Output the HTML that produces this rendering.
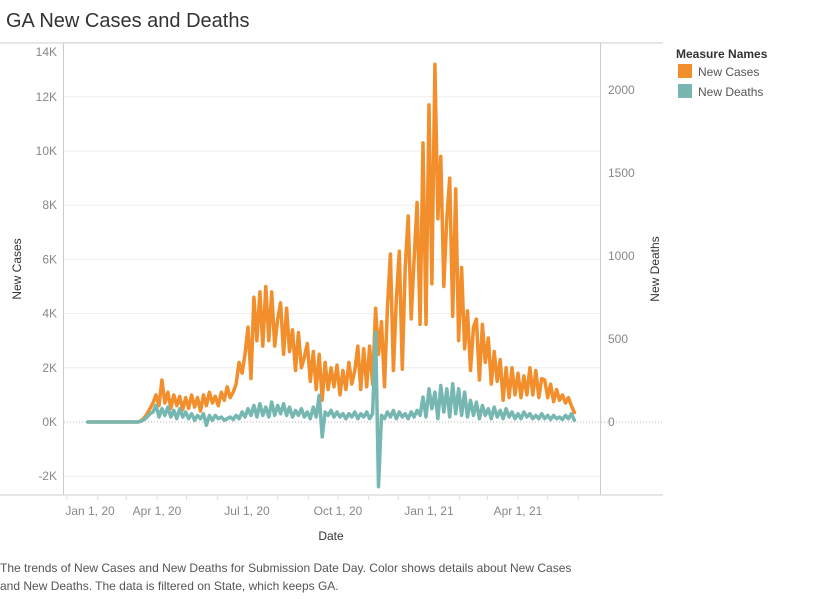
<!DOCTYPE html>
<html><head><meta charset="utf-8"><style>
body{margin:0;background:#fff;font-family:"Liberation Sans",sans-serif;}
svg text{font-family:"Liberation Sans",sans-serif;}
</style></head><body>
<svg width="815" height="594" xmlns="http://www.w3.org/2000/svg">
<text x="6" y="27" font-size="20" fill="#333">GA New Cases and Deaths</text>
<g id="grid"></g>
<line x1="0" y1="43" x2="663" y2="43" stroke="#ccc"/>
<line x1="0" y1="495" x2="663" y2="495" stroke="#ccc"/>
<line x1="63.5" y1="43" x2="63.5" y2="495" stroke="#ccc"/>
<line x1="600.5" y1="43" x2="600.5" y2="495" stroke="#ccc"/>
<g id="series"></g>
<g id="axes"></g>
<text transform="translate(21,269) rotate(-90)" text-anchor="middle" font-size="12" fill="#333">New Cases</text>
<text transform="translate(659,269) rotate(-90)" text-anchor="middle" font-size="12" fill="#333">New Deaths</text>
<text x="331" y="540" text-anchor="middle" font-size="12" fill="#333">Date</text>
<g>
<text x="676" y="58" font-size="12" fill="#333" font-weight="bold">Measure Names</text>
<rect x="678" y="64" width="14" height="14" fill="#F28E2B"/>
<text x="698" y="76" font-size="12" fill="#555">New Cases</text>
<rect x="678" y="84" width="14" height="14" fill="#76B7B2"/>
<text x="698" y="96" font-size="12" fill="#555">New Deaths</text>
</g>
<text x="0" y="572" font-size="12" fill="#555">The trends of New Cases and New Deaths for Submission Date Day.  Color shows details about New Cases</text>
<text x="0" y="590" font-size="12" fill="#555">and New Deaths. The data is filtered on State, which keeps GA.</text>
</svg>
<script>
const startDay = 21; // days since Jan 1 2020
const stepDays = 3;
const newCases = [0,0,0,0,0,0,0,0,0,0,0,0,0,0,0,0,0,0,
50,150,300,500,700,1000,600,1550,700,1100,500,1000,600,950,450,900,500,1000,550,900,400,1000,600,1100,700,950,600,1100,800,1300,900,1100,1400,2200,1800,2500,3500,1600,4600,3000,4800,2800,5000,3000,4800,2800,3800,4400,2500,4200,2600,3400,1900,3300,2000,2400,2900,1500,2600,1200,2500,800,2200,1200,2000,1300,2100,1000,1900,1200,2200,1400,1900,2800,1200,2700,1300,2800,1400,4200,2500,3700,1300,4200,6200,1900,4500,6300,1950,5700,7600,3800,6000,8100,3600,10300,3600,11700,5100,13200,7500,9800,5000,7500,9000,3900,8600,3000,5700,2700,4100,1900,3500,3800,1550,3600,2200,3100,1400,2600,1500,2300,800,2000,900,2000,1000,1800,900,1700,1000,2000,1000,1900,900,1600,1550,900,1400,750,1200,800,1000,700,900,600,350];
const newDeaths = [0,0,0,0,0,0,0,0,0,0,0,0,0,0,0,0,0,0,
5,15,30,50,60,100,30,80,40,90,30,70,20,80,30,60,20,50,10,40,20,50,-20,40,10,40,20,30,10,20,30,15,40,20,60,30,80,40,100,30,110,40,90,30,120,40,100,50,110,40,90,30,70,40,80,30,60,20,90,30,160,-90,60,40,70,30,60,30,50,20,50,30,60,20,50,30,60,20,50,540,-390,40,20,60,30,70,20,60,30,50,20,60,30,70,40,150,30,200,80,180,20,220,60,200,30,230,50,200,40,180,30,130,40,120,20,100,40,80,20,90,30,70,20,80,30,60,20,50,20,60,30,50,20,40,20,50,20,40,15,40,20,30,15,40,20,50,10];
const leftTicks = [14000,12000,10000,8000,6000,4000,2000,0,-2000];
const leftTickLabels = ["14K","12K","10K","8K","6K","4K","2K","0K","-2K"];
const rightTicks = [2000,1500,1000,500,0];
const xTickDays = [0,91,182,274,366,456];
const xTickLabels = ["Jan 1, 20","Apr 1, 20","Jul 1, 20","Oct 1, 20","Jan 1, 21","Apr 1, 21"];

const NS="http://www.w3.org/2000/svg";
const xs = d => 67 + d*0.989;
const yL = v => 422 - v*0.0271;
const yR = v => 422 - v*0.166;
function mk(tag, attrs, parent){const e=document.createElementNS(NS,tag);for(const k in attrs)e.setAttribute(k,attrs[k]);parent.appendChild(e);return e;}
const grid=document.getElementById('grid'), axes=document.getElementById('axes'), series=document.getElementById('series');
leftTicks.forEach((v,i)=>{
  const y=yL(v);
  if(v!==0){const g=mk('line',{x1:64,x2:600,y1:y,y2:y,stroke:'#eee'},grid);
  
  }
  else{const z=mk('line',{x1:64,x2:663,y1:y,y2:y,stroke:'#bbb','stroke-dasharray':'1,2'},grid);
  
  }
  const ly = (y < 50) ? 56 : y+4;
  const t=mk('text',{x:57,y:ly,'text-anchor':'end','font-size':12,fill:'#888'},axes);
  t.textContent=leftTickLabels[i];
  
  
});
rightTicks.forEach(v=>{
  const y=yR(v);
  const t=mk('text',{x:608,y:y+4,'font-size':12,fill:'#888'},axes);
  t.textContent=String(v);
  
  
});
for(let m=0;m<18;m++){
  const d=[0,31,60,91,121,152,182,213,244,274,305,335,366,397,425,456,486,517][m];
  const x=xs(d);
  const tk=mk('line',{x1:x,x2:x,y1:495,y2:500,stroke:'#ddd'},axes);
  
  
}
xTickDays.forEach((d,i)=>{
  const x = i===0 ? 90 : xs(d);
  const t=mk('text',{x:x,y:515,'text-anchor':'middle','font-size':12,fill:'#888'},axes);
  t.textContent=xTickLabels[i];
  
  
});
function line(vals, yf, color, name){
  const pts=vals.map((v,i)=>xs(startDay+i*stepDays).toFixed(1)+','+yf(v).toFixed(1)).join(' ');
  const p=mk('polyline',{points:pts,fill:'none',stroke:color,'stroke-width':3.5,'stroke-linejoin':'round','stroke-linecap':'round'},series);
  
  
}
line(newCases,yL,'#F28E2B','new-cases-line');
line(newDeaths,yR,'#76B7B2','new-deaths-line');
</script>
</body></html>
